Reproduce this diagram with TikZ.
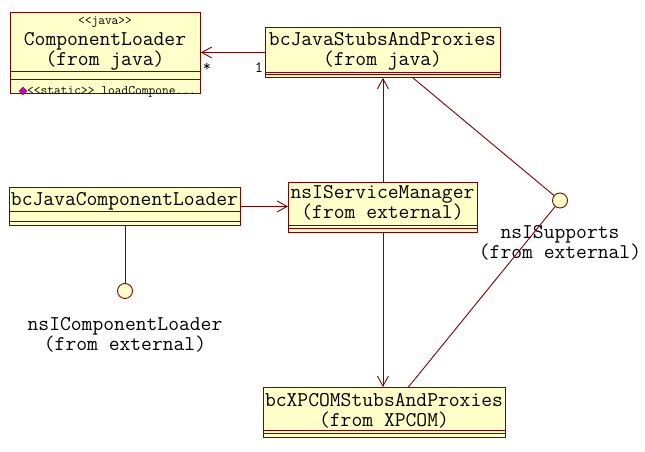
\documentclass[tikz,border=0pt]{standalone}
\usepackage{fontspec}
\usetikzlibrary{arrows.meta,shapes.geometric}
\definecolor{umlfill}{HTML}{FFFFCA}
\definecolor{umlline}{HTML}{800000}
\definecolor{opmark}{HTML}{CC00CC}
% guillemet-free angle brackets (a kern keeps << from turning into one glyph)
\newcommand{\ltlt}{<\kern0pt<}
\newcommand{\gtgt}{>\kern0pt>}
\begin{document}
\begin{tikzpicture}[x=1pt,y=-1pt,
  classbox/.style={draw=umlline,fill=umlfill,line width=0.9pt,rectangle,inner sep=0pt,
    anchor=north west,minimum width=#1},
  cname/.style={font=\ttfamily\fontsize{21}{20}\selectfont,align=center,inner sep=0pt,text=black},
  small/.style={font=\ttfamily\fontsize{13.1}{13}\selectfont,inner sep=0pt,text=black},
  mult/.style={font=\ttfamily\fontsize{16}{16}\selectfont,inner sep=0pt,text=black},
  iface/.style={circle,draw=umlline,fill=umlfill,line width=0.9pt,minimum size=15pt,inner sep=0pt},
  rel/.style={draw=umlline,line width=0.9pt},
  nav/.style={rel,-{Straight Barb[length=10pt,width=11pt,line width=0.9pt]}},
  compart/.style={draw=umlline,line width=0.9pt}]
\useasboundingbox[fill=white] (0,0) rectangle (645,452);

% ComponentLoader class
\node[classbox=190pt,minimum height=81pt] (cl) at (10,12) {};
\draw[compart] (10,71) -- (200,71);
\draw[compart] (10,79) -- (200,79);
\node[small] (clst) at (105,22) {\ltlt java\gtgt};
\node[cname] (clname) at (105,51) {ComponentLoader\\(from java)};
\node[diamond,fill=opmark,draw=umlline,line width=0.4pt,inner sep=0pt,minimum width=8pt,minimum height=8pt] (clop) at (23,91) {};
\node[small,anchor=west] (cloptxt) at (27,92) {\ltlt static\gtgt{} loadCompone...};

% bcJavaStubsAndProxies class
\node[classbox=235pt,minimum height=50pt] (js) at (265,27) {};
\draw[compart] (265,72) -- (500,72);
\draw[compart] (265,74.5) -- (500,74.5);
\node[cname] (jsname) at (382.5,51) {bcJavaStubsAndProxies\\(from java)};

% bcJavaComponentLoader class
\node[classbox=231pt,minimum height=38pt] (jcl) at (9,187) {};
\draw[compart] (9,211) -- (240,211);
\draw[compart] (9,221) -- (240,221);
\node[cname] (jclname) at (124.5,201) {bcJavaComponentLoader};

% nsIServiceManager class
\node[classbox=189pt,minimum height=50pt] (sm) at (288,182) {};
\draw[compart] (288,225) -- (477,225);
\draw[compart] (288,228.5) -- (477,228.5);
\node[cname] (smname) at (382.5,203) {nsIServiceManager\\(from external)};

% bcXPCOMStubsAndProxies class
\node[classbox=242pt,minimum height=50pt] (xp) at (263,387) {};
\draw[compart] (263,430) -- (505,430);
\draw[compart] (263,433.5) -- (505,433.5);
\node[cname] (xpname) at (384,411) {bcXPCOMStubsAndProxies\\(from XPCOM)};

% interfaces (lollipops)
\node[iface] (isup) at (560,200.5) {};
\node[cname] (isuplbl) at (560,243) {nsISupports\\(from external)};
\node[iface] (icl) at (125,291) {};
\node[cname] (icllbl) at (125,335) {nsIComponentLoader\\(from external)};

% association ends
\coordinate (jsfoot) at ([xshift=30pt]js.south);
\coordinate (xphead) at ([xshift=24pt]xp.north);

% relations
\draw[nav] (js.west) -- (js.west -| cl.east);
\node[mult] (mstar) at (207,67) {*};
\node[mult] (mone) at (259,68) {1};
\draw[nav] (jcl.east) -- (jcl.east -| sm.west);
\draw[nav] (sm.north) -- (sm.north |- js.south);
\draw[nav] (sm.south) -- (sm.south |- xp.north);
\draw[rel] (jsfoot) -- (isup);
\draw[rel] (xphead) -- (isup);
\draw[rel] (jcl.south -| icl.north) -- (icl.north);
\end{tikzpicture}
\end{document}
